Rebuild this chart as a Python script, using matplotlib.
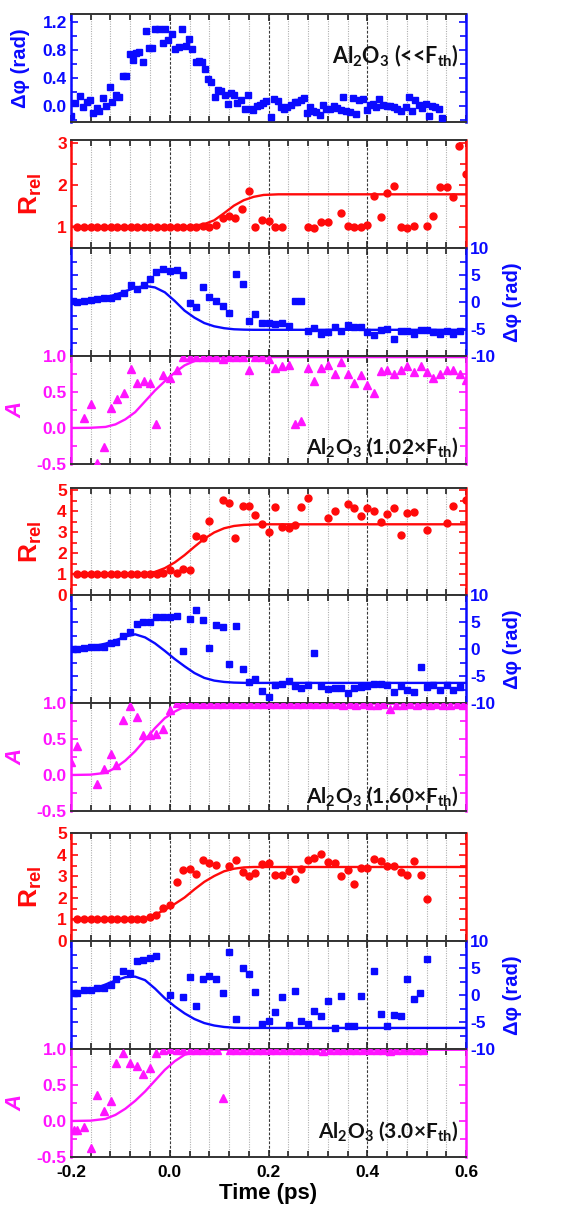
import matplotlib
matplotlib.use("Agg")
import matplotlib.pyplot as plt
from matplotlib.ticker import MultipleLocator

plt.rcParams.update({
    "font.family": ["Liberation Sans", "DejaVu Sans"],
    "font.weight": "bold",
    "axes.unicode_minus": False,
    "mathtext.fontset": "custom",
    "mathtext.rm": "Lato",
    "mathtext.bf": "Liberation Sans:bold",
    "mathtext.it": "Lato:italic",
    "mathtext.default": "rm",
})

BLUE = "#0a0aff"
RED = "#ff0a0a"
MAGENTA = "#ff14ff"

# ---------------- data ----------------
# Sub-threshold phase shift (ps, rad)
TOP_T = [-0.200, -0.192, -0.182, -0.175, -0.167, -0.162, -0.155, -0.148, -0.143, -0.135,
         -0.129, -0.122, -0.116, -0.109, -0.102, -0.095, -0.089, -0.081, -0.075, -0.068,
         -0.062, -0.055, -0.049, -0.043, -0.035, -0.029, -0.022, -0.014, -0.009, -0.004,
         0.005, 0.011, 0.018, 0.025, 0.032, 0.038, 0.045, 0.053, 0.060, 0.065,
         0.072, 0.077, 0.084, 0.091, 0.098, 0.104, 0.111, 0.118, 0.125, 0.130,
         0.137, 0.144, 0.152, 0.158, 0.164, 0.169, 0.177, 0.183, 0.189, 0.195,
         0.206, 0.211, 0.219, 0.226, 0.231, 0.238, 0.245, 0.253, 0.258, 0.265,
         0.272, 0.277, 0.284, 0.291, 0.297, 0.304, 0.311, 0.316, 0.324, 0.333,
         0.339, 0.346, 0.350, 0.357, 0.365, 0.372, 0.377, 0.383, 0.391, 0.399,
         0.405, 0.412, 0.418, 0.424, 0.432, 0.439, 0.447, 0.454, 0.461, 0.468,
         0.478, 0.485, 0.491, 0.497, 0.504, 0.511, 0.518, 0.526, 0.531, 0.538,
         0.545, 0.551]
TOP_PHI = [-0.14, 0.04, 0.14, -0.01, 0.06, 0.085, -0.10, -0.03, -0.07, 0.11,
           0.005, 0.275, 0.06, 0.15, 0.12, 0.43, 0.42, 0.74, 0.65, 0.76,
           0.77, 0.62, 1.07, 0.83, 0.82, 1.10, 1.10, 0.90, 1.09, 0.94,
           1.02, 0.81, 0.84, 1.09, 0.85, 0.95, 0.81, 0.63, 0.64, 0.63,
           0.52, 0.39, 0.34, 0.12, 0.22, 0.21, 0.16, 0.02, 0.19, 0.15,
           0.04, 0.085, -0.04, 0.15, -0.04, -0.06, 0.0, 0.015, 0.04, 0.07,
           -0.16, 0.10, 0.07, -0.02, -0.04, -0.02, 0.015, 0.05, 0.06, 0.08,
           0.11, -0.095, -0.01, -0.07, -0.09, -0.13, 0.015, -0.04, -0.04, 0.0,
           -0.03, -0.06, 0.12, -0.07, -0.09, 0.11, -0.11, 0.08, 0.10, -0.06,
           0.01, 0.03, -0.01, 0.10, 0.015, 0.005, 0.005, -0.02, -0.04, -0.07,
           -0.02, 0.13, -0.07, 0.08, 0.01, -0.03, 0.03, -0.15, 0.005, -0.01,
           -0.05, -0.18]

# Fit curves share one delay axis
FIT_T = [-0.20, -0.16, -0.13, -0.11, -0.09, -0.07, -0.05, -0.03, -0.01, 0.01, 0.03,
         0.05, 0.07, 0.09, 0.11, 0.13, 0.15, 0.17, 0.19, 0.22, 0.26, 0.60]

# 1.02 x Fth
F102_R_T = [-0.187, -0.174, -0.160, -0.147, -0.133, -0.120, -0.106, -0.093, -0.079, -0.066,
            -0.052, -0.039, -0.025, -0.012, 0.000, 0.014, 0.027, 0.041, 0.054, 0.068,
            0.080, 0.094, 0.107, 0.121, 0.133, 0.147, 0.160, 0.173, 0.187, 0.200,
            0.214, 0.227, 0.281, 0.293, 0.307, 0.320, 0.346, 0.360, 0.373, 0.387,
            0.400, 0.414, 0.427, 0.441, 0.454, 0.468, 0.481, 0.495, 0.520, 0.534,
            0.547, 0.561, 0.574, 0.586, 0.599]
F102_R = [1.0, 1.0, 1.0, 1.0, 1.0, 1.0, 1.0, 1.0, 1.0, 1.0,
          1.0, 1.0, 1.0, 1.0, 1.0, 1.0, 1.0, 1.0, 1.0, 1.02,
          0.99, 1.03, 1.20, 1.25, 1.21, 1.41, 1.85, 0.98, 1.16, 1.14,
          1.0, 1.0, 1.0, 0.97, 1.10, 1.11, 1.32, 1.02, 0.98, 0.98,
          1.04, 1.74, 1.24, 1.81, 1.98, 1.0, 0.96, 1.02, 1.02, 1.25,
          1.94, 1.94, 1.70, 2.92, 2.25]
F102_R_FIT = [1.0, 1.0, 1.0, 1.0, 1.0, 1.0, 1.0, 1.0, 1.0, 1.0, 1.0,
              1.02, 1.06, 1.15, 1.32, 1.50, 1.63, 1.71, 1.755, 1.77, 1.77, 1.77]

F102_P_T = [-0.195, -0.187, -0.174, -0.160, -0.147, -0.133, -0.120, -0.106, -0.093, -0.079,
            -0.066, -0.052, -0.040, -0.027, -0.013, 0.000, 0.014, 0.027, 0.041, 0.054,
            0.067, 0.080, 0.094, 0.107, 0.121, 0.134, 0.148, 0.160, 0.173, 0.187,
            0.200, 0.214, 0.227, 0.241, 0.253, 0.266, 0.280, 0.293, 0.307, 0.320,
            0.334, 0.347, 0.361, 0.374, 0.388, 0.400, 0.414, 0.427, 0.441, 0.454,
            0.468, 0.481, 0.495, 0.508, 0.522, 0.534, 0.547, 0.561, 0.574, 0.588]
F102_P = [0.19, 0.0, 0.19, 0.37, 0.5, 0.68, 0.81, 1.12, 1.61, 3.17,
          2.36, 3.17, 4.35, 5.53, 6.09, 5.71, 5.96, 4.97, -0.12, -0.93,
          2.8, 0.93, 0.19, -0.75, -2.11, 5.1, 3.29, -3.54, -2.3, -3.85,
          -3.85, -4.04, -3.85, -4.47, 0.19, 0.19, -5.28, -4.78, -5.9, -5.59,
          -4.6, -5.4, -4.35, -4.66, -4.66, -5.59, -6.2, -5.22, -4.97, -6.84,
          -5.4, -5.4, -5.9, -5.22, -5.22, -5.59, -5.9, -5.28, -5.84, -5.4]
F102_P_FIT = [0.0, 0.4, 0.85, 1.35, 2.0, 2.6, 2.98, 2.7, 1.8, 0.2, -1.6,
              -2.9, -3.9, -4.5, -4.85, -5.05, -5.12, -5.15, -5.15, -5.15, -5.15, -5.15]

F102_A_T = [-0.174, -0.160, -0.147, -0.133, -0.120, -0.106, -0.093, -0.079, -0.066, -0.052,
            -0.039, -0.027, -0.013, 0.000, 0.014, 0.026, 0.040, 0.053, 0.067, 0.080,
            0.094, 0.107, 0.121, 0.134, 0.148, 0.160, 0.173, 0.187, 0.200, 0.214,
            0.227, 0.241, 0.253, 0.266, 0.280, 0.293, 0.307, 0.320, 0.334, 0.347,
            0.361, 0.374, 0.387, 0.400, 0.414, 0.427, 0.441, 0.454, 0.468, 0.481,
            0.495, 0.508, 0.522, 0.534, 0.547, 0.561, 0.574, 0.588, 0.600]
F102_A = [0.14, 0.34, -0.49, -0.27, 0.28, 0.40, 0.48, 0.82, 0.62, 0.65,
          0.63, 0.06, 0.73, 0.69, 0.81, 0.99, 0.99, 0.99, 0.99, 0.99,
          0.98, 0.96, 0.99, 0.99, 0.98, 0.81, 0.99, 0.99, 0.96, 0.83,
          0.86, 0.87, 0.06, 0.10, 0.83, 0.65, 0.83, 0.88, 0.75, 0.91,
          0.75, 0.62, 0.74, 0.60, 0.48, 0.79, 0.81, 0.75, 0.81, 0.86,
          0.78, 0.86, 0.78, 0.69, 0.75, 0.80, 0.80, 0.75, 0.66]
F102_A_FIT = [0.0, 0.003, 0.015, 0.05, 0.12, 0.22, 0.37, 0.52, 0.65, 0.77, 0.87,
              0.93, 0.96, 0.975, 0.985, 0.985, 0.985, 0.985, 0.985, 0.985, 0.985, 0.985]

# 1.60 x Fth
F160_R_T = [-0.187, -0.174, -0.160, -0.147, -0.133, -0.120, -0.106, -0.093, -0.079, -0.066,
            -0.052, -0.039, -0.025, -0.013, 0.000, 0.014, 0.027, 0.041, 0.053, 0.067,
            0.080, 0.107, 0.121, 0.133, 0.148, 0.160, 0.173, 0.187, 0.200, 0.214,
            0.227, 0.241, 0.254, 0.266, 0.280, 0.320, 0.334, 0.361, 0.374, 0.387,
            0.400, 0.414, 0.427, 0.441, 0.454, 0.468, 0.481, 0.495, 0.520, 0.561,
            0.574, 0.600]
F160_R = [1.0, 1.0, 1.0, 1.0, 1.02, 1.0, 1.0, 1.0, 1.02, 1.0,
          1.0, 1.02, 1.02, 1.03, 1.19, 1.03, 1.22, 1.19, 2.83, 2.70,
          3.52, 4.52, 4.37, 2.70, 4.24, 4.24, 3.81, 3.37, 2.98, 4.21,
          3.25, 3.17, 3.33, 4.21, 4.63, 3.68, 4.0, 4.35, 4.17, 3.78,
          4.16, 4.0, 3.49, 3.84, 4.13, 2.86, 3.89, 3.97, 3.10, 3.44,
          4.25, 4.52]
F160_R_FIT = [1.0, 1.0, 1.0, 1.0, 1.0, 1.01, 1.03, 1.10, 1.28, 1.55, 1.90,
              2.30, 2.68, 2.98, 3.18, 3.29, 3.34, 3.36, 3.37, 3.37, 3.37, 3.37]

F160_P_T = [-0.195, -0.187, -0.174, -0.160, -0.147, -0.133, -0.120, -0.108, -0.094, -0.081,
            -0.067, -0.054, -0.040, -0.027, -0.013, 0.000, 0.014, 0.027, 0.041, 0.054,
            0.067, 0.080, 0.094, 0.107, 0.121, 0.134, 0.148, 0.160, 0.173, 0.187,
            0.200, 0.214, 0.227, 0.241, 0.253, 0.266, 0.280, 0.293, 0.307, 0.320,
            0.334, 0.347, 0.361, 0.373, 0.387, 0.399, 0.414, 0.427, 0.441, 0.454,
            0.468, 0.481, 0.495, 0.508, 0.520, 0.534, 0.547, 0.561, 0.574, 0.588]
F160_P = [0.0, 0.0, 0.1, 0.3, 0.44, 0.3, 1.06, 1.25, 2.4, 3.1,
          4.56, 5.0, 5.0, 5.9, 5.9, 5.94, 6.06, -0.3, 5.6, 7.2,
          5.44, 0.1, 4.4, 4.06, -2.8, 4.25, -3.75, -6.1, -5.6, -7.7,
          -8.9, -6.7, -6.4, -5.9, -6.9, -7.2, -6.75, -0.8, -6.9, -7.4,
          -7.2, -7.2, -8.1, -7.2, -7.0, -6.9, -6.4, -6.4, -6.75, -8.0,
          -6.9, -7.5, -8.0, -3.4, -7.06, -6.7, -7.5, -6.75, -7.6, -7.06]
F160_P_FIT = [0.0, 0.4, 1.0, 1.6, 2.3, 2.72, 2.15, 1.05, -0.35, -1.85, -3.2,
              -4.45, -5.35, -5.85, -6.1, -6.22, -6.27, -6.28, -6.28, -6.28, -6.28, -6.28]

F160_A_T = [-0.199, -0.187, -0.147, -0.133, -0.120, -0.108, -0.094, -0.081, -0.067, -0.054,
            -0.040, -0.027, -0.013, 0.000, 0.014, 0.027, 0.041, 0.054, 0.068, 0.081,
            0.095, 0.108, 0.122, 0.135, 0.149, 0.162, 0.176, 0.189, 0.203, 0.216,
            0.230, 0.243, 0.257, 0.270, 0.284, 0.297, 0.311, 0.324, 0.338, 0.351,
            0.365, 0.378, 0.392, 0.405, 0.419, 0.432, 0.446, 0.459, 0.473, 0.486,
            0.500, 0.513, 0.527, 0.540, 0.554, 0.567, 0.581, 0.594]
F160_A = [0.18, 0.40, -0.12, 0.08, 0.29, 0.14, 0.76, 0.96, 0.80, 0.55,
          0.56, 0.57, 0.64, 0.90, 1.0, 0.99, 0.99, 0.99, 0.99, 0.99,
          0.99, 0.99, 0.99, 0.99, 0.99, 0.99, 0.99, 0.99, 0.99, 0.99,
          0.99, 0.99, 0.99, 0.99, 0.99, 0.99, 0.99, 0.99, 0.99, 0.97,
          0.99, 0.97, 0.99, 0.97, 0.97, 0.99, 0.92, 0.97, 0.97, 0.99,
          0.97, 0.99, 0.97, 0.99, 0.97, 0.97, 0.99, 0.97]
F160_A_FIT = [0.0, 0.005, 0.03, 0.10, 0.20, 0.33, 0.49, 0.65, 0.79, 0.88, 0.95,
              0.98, 0.99, 0.99, 0.99, 0.99, 0.99, 0.99, 0.99, 0.99, 0.99, 0.99]

# 3.0 x Fth
F300_R_T = [-0.187, -0.174, -0.160, -0.147, -0.133, -0.120, -0.106, -0.093, -0.079, -0.066,
            -0.054, -0.040, -0.027, -0.013, 0.000, 0.014, 0.027, 0.041, 0.054, 0.067,
            0.080, 0.094, 0.121, 0.134, 0.148, 0.160, 0.173, 0.187, 0.200, 0.214,
            0.227, 0.241, 0.253, 0.266, 0.280, 0.293, 0.307, 0.320, 0.334, 0.346,
            0.360, 0.373, 0.387, 0.400, 0.414, 0.427, 0.441, 0.454, 0.468, 0.481,
            0.495, 0.508, 0.520]
F300_R = [1.0, 1.0, 1.0, 1.0, 1.0, 1.0, 1.0, 1.0, 1.0, 1.0,
          1.0, 1.11, 1.19, 1.53, 1.66, 2.72, 3.30, 3.33, 3.11, 3.77,
          3.61, 3.53, 3.50, 3.77, 3.22, 3.02, 3.14, 3.56, 3.61, 3.06,
          3.06, 3.25, 2.88, 3.34, 3.77, 3.88, 4.05, 3.69, 3.64, 3.02,
          3.30, 2.67, 3.38, 3.41, 3.80, 3.73, 3.50, 3.50, 3.19, 3.06,
          3.72, 3.09, 1.97]
F300_R_FIT = [1.0, 1.0, 1.0, 1.0, 1.0, 1.0, 1.05, 1.22, 1.45, 1.72, 2.02,
              2.40, 2.75, 3.02, 3.24, 3.36, 3.42, 3.44, 3.44, 3.44, 3.44, 3.44]

F300_P_T = [-0.194, -0.187, -0.174, -0.160, -0.147, -0.133, -0.120, -0.108, -0.094, -0.081,
            -0.067, -0.054, -0.040, -0.027, 0.000, 0.027, 0.041, 0.054, 0.067, 0.080,
            0.094, 0.107, 0.121, 0.134, 0.148, 0.160, 0.173, 0.187, 0.200, 0.214,
            0.227, 0.241, 0.253, 0.266, 0.280, 0.293, 0.307, 0.320, 0.334, 0.346,
            0.361, 0.373, 0.387, 0.414, 0.427, 0.441, 0.454, 0.468, 0.481, 0.495,
            0.507, 0.520]
F300_P = [0.3, 0.3, 0.94, 0.94, 1.38, 1.38, 1.88, 3.0, 4.38, 4.06,
          6.25, 6.44, 6.88, 7.19, 0.0, -0.44, 3.31, -2.0, 3.0, 3.56,
          3.0, 0.31, 8.0, -4.5, 5.0, 3.94, 0.63, -5.38, -4.88, -3.13,
          -0.31, -5.63, 0.81, -4.88, -5.38, -3.0, -3.94, -1.13, -6.13, -0.19,
          -5.69, -5.69, -0.19, 4.38, -3.5, -5.69, -3.63, -3.88, 2.94, -0.81,
          0.31, 6.75]
F300_P_FIT = [0.0, 0.9, 1.95, 2.7, 3.3, 3.4, 2.75, 1.2, -0.6, -2.1, -3.4,
              -4.45, -5.2, -5.65, -5.92, -6.06, -6.1, -6.1, -6.1, -6.1, -6.1, -6.1]

F300_A_T = [-0.194, -0.187, -0.174, -0.160, -0.147, -0.133, -0.120, -0.108, -0.094, -0.081,
            -0.067, -0.054, -0.040, -0.027, -0.013, 0.000, 0.014, 0.027, 0.041, 0.054,
            0.068, 0.081, 0.095, 0.107, 0.122, 0.135, 0.149, 0.162, 0.176, 0.189,
            0.203, 0.216, 0.230, 0.243, 0.257, 0.270, 0.284, 0.297, 0.311, 0.324,
            0.338, 0.351, 0.365, 0.378, 0.392, 0.405, 0.419, 0.432, 0.446, 0.459,
            0.473, 0.486, 0.500, 0.513]
F300_A = [-0.13, -0.13, -0.08, -0.37, 0.36, 0.14, 0.28, 0.80, 0.94, 0.80,
          0.76, 0.65, 0.74, 0.94, 0.98, 1.0, 0.99, 0.99, 0.99, 0.99,
          0.99, 0.99, 0.99, 0.32, 0.985, 0.985, 0.985, 0.985, 0.985, 0.985,
          0.985, 0.985, 0.985, 0.985, 0.985, 0.985, 0.985, 0.985, 0.97, 0.985,
          0.985, 0.985, 0.985, 0.985, 0.985, 0.985, 0.985, 0.985, 0.97, 0.985,
          0.985, 0.985, 0.985, 0.985]
F300_A_FIT = [0.0, 0.005, 0.03, 0.085, 0.17, 0.28, 0.41, 0.56, 0.71, 0.83, 0.92,
              0.965, 0.985, 0.99, 0.99, 0.99, 0.99, 0.99, 0.99, 0.99, 0.99, 0.99]

CASES = [
    ("Al$_{2}$O$_{3}$ (1.02\u00d7F$_{th}$)",
     (F102_R_T, F102_R, F102_R_FIT), (F102_P_T, F102_P, F102_P_FIT), (F102_A_T, F102_A, F102_A_FIT)),
    ("Al$_{2}$O$_{3}$ (1.60\u00d7F$_{th}$)",
     (F160_R_T, F160_R, F160_R_FIT), (F160_P_T, F160_P, F160_P_FIT), (F160_A_T, F160_A, F160_A_FIT)),
    ("Al$_{2}$O$_{3}$ (3.0\u00d7F$_{th}$)",
     (F300_R_T, F300_R, F300_R_FIT), (F300_P_T, F300_P, F300_P_FIT), (F300_A_T, F300_A, F300_A_FIT)),
]

# ---------------- layout ----------------
W, H = 582, 1208
fig = plt.figure(figsize=(W / 100, H / 100), dpi=100)
XL, XR = 71, 466
TICK_FS = 12.5


def panel(top, bottom):
    return fig.add_axes([XL / W, 1 - bottom / H, (XR - XL) / W, (bottom - top) / H])


def style(ax, color, ylim, major, minor, side="left", xlabels=False):
    ax.set_xlim(-0.2, 0.6)
    ax.set_ylim(*ylim)
    ax.xaxis.set_major_locator(MultipleLocator(0.2))
    ax.xaxis.set_minor_locator(MultipleLocator(0.04))
    ax.yaxis.set_major_locator(MultipleLocator(major))
    ax.yaxis.set_minor_locator(MultipleLocator(minor))
    ax.grid(True, axis="x", which="major", color="#3a3a3a", ls=(0, (2.5, 1.5)), lw=0.8)
    ax.grid(True, axis="x", which="minor", color="#b0b0b0", ls=(0, (1, 1.2)), lw=0.8)
    ax.set_axisbelow(True)
    ax.tick_params(axis="x", which="both", direction="in", top=True, bottom=True,
                   color="#222222", width=1.2, labelbottom=xlabels,
                   labelsize=TICK_FS, pad=6)
    ax.tick_params(axis="x", which="major", length=5)
    ax.tick_params(axis="x", which="minor", length=4)
    ax.tick_params(axis="y", which="both", direction="in", left=True, right=True,
                   colors=color, width=1.2, labelleft=(side == "left"),
                   labelright=(side == "right"), labelsize=TICK_FS, pad=3)
    ax.tick_params(axis="y", which="major", length=5)
    ax.tick_params(axis="y", which="minor", length=4)
    for s in ("left", "right"):
        ax.spines[s].set_color(color)
        ax.spines[s].set_linewidth(1.8)
    for s in ("top", "bottom"):
        ax.spines[s].set_color("#333333")
        ax.spines[s].set_linewidth(1.4)
    for lab in ax.get_xticklabels() + ax.get_yticklabels():
        lab.set_fontweight("bold")


def ylabel(text, x, y, color, size, style_="normal"):
    fig.text(x / W, 1 - y / H, text, rotation=90, ha="center", va="center",
             color=color, fontsize=size, fontweight="bold", fontstyle=style_)


def tag(ax, text, y_frac, size):
    ax.text(0.982, y_frac, text, transform=ax.transAxes, ha="right", va="baseline",
            fontsize=size, family="Lato", fontweight="bold", color="#111111", zorder=6)


# Sub-threshold panel
ax0 = panel(14, 122)
style(ax0, BLUE, (-0.23, 1.31), 0.4, 0.2)
ax0.plot(TOP_T, TOP_PHI, ls="none", marker="s", ms=4.6, color=BLUE, zorder=3)
tag(ax0, "Al$_{2}$O$_{3}$ (<<F$_{th}$)", 0.545, 15.5)
ylabel("\u0394\u03c6 (rad)", 21, 68, BLUE, 14.5)

GROUPS = [(140, 248, 356, 464), (488, 595, 703, 811), (833, 941, 1049, 1157)]
R_LIMS = [(0.49, 3.065), (0.0, 5.1), (0.0, 5.02)]
TAG_Y = [0.10, 0.074, 0.176]

for gi, ((name, rset, pset, aset), (t0, t1, t2, t3)) in enumerate(zip(CASES, GROUPS)):
    last = gi == len(CASES) - 1

    axr = panel(t0, t1)
    style(axr, RED, R_LIMS[gi], 1, 0.5)
    axr.plot(FIT_T, rset[2], color=RED, lw=1.7, zorder=2)
    axr.plot(rset[0], rset[1], ls="none", marker="o", ms=5, color=RED, zorder=3)
    ylabel(r"R$_{\mathbf{rel}}$", 31, (t0 + t1) / 2, RED, 19)

    axp = panel(t1, t2)
    style(axp, BLUE, (-10, 10), 5, 2.5, side="right")
    axp.plot(FIT_T, pset[2], color=BLUE, lw=1.7, zorder=2)
    axp.plot(pset[0], pset[1], ls="none", marker="s", ms=4.6, color=BLUE, zorder=3)
    fig.text(512 / W, 1 - ((t1 + t2) / 2) / H, "\u0394\u03c6 (rad)", rotation=90,
             ha="center", va="center", color=BLUE, fontsize=14.5, fontweight="bold")

    axa = panel(t2, t3)
    style(axa, MAGENTA, (-0.5, 1.0), 0.5, 0.25, xlabels=last)
    axa.plot(FIT_T, aset[2], color=MAGENTA, lw=1.7, zorder=2)
    axa.plot(aset[0], aset[1], ls="none", marker="^", ms=5.5, color=MAGENTA, zorder=3)
    ylabel("A", 16, (t2 + t3) / 2, MAGENTA, 16, "italic")
    tag(axa, name, TAG_Y[gi], 15)

    if last:
        axa.set_xlabel("Time (ps)", fontsize=16, fontweight="bold", labelpad=2)

fig.savefig("out.png", dpi=100)
